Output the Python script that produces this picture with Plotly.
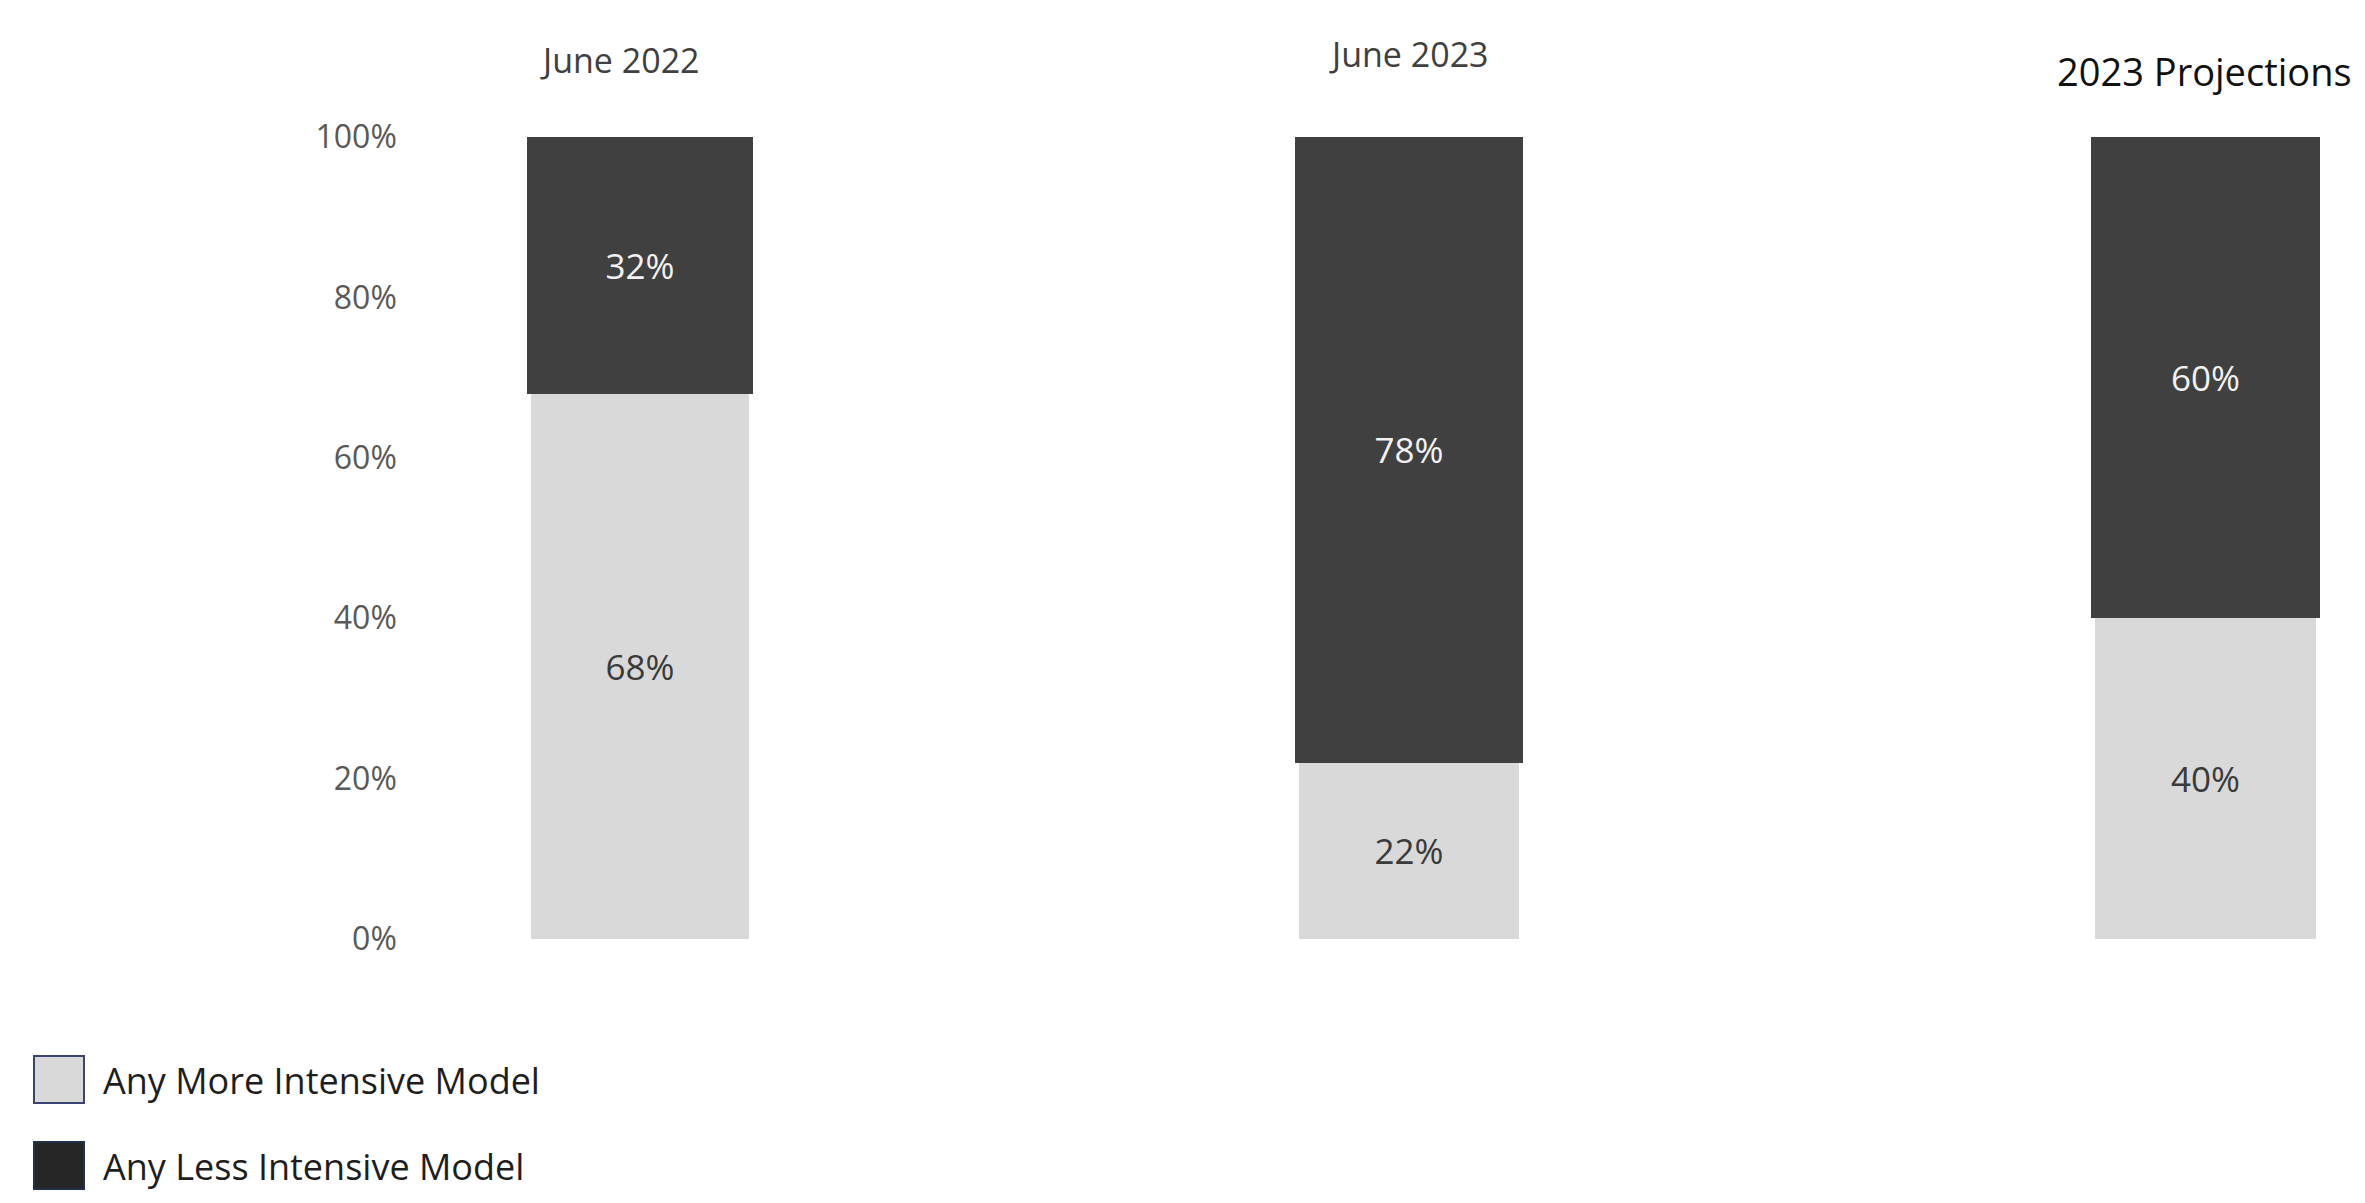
import plotly.graph_objects as go

# ---- data ----
categories = ["June 2022", "June 2023", "2023 Projections"]
more_intensive = [68, 22, 40]
less_intensive = [32, 78, 60]
series_names = ["Any More Intensive Model", "Any Less Intensive Model"]
y_tick_vals = [0, 20, 40, 60, 80, 100]
y_tick_text = ["0%", "20%", "40%", "60%", "80%", "100%"]

# ---- style ----
W, H = 2365, 1203
M_T, M_B = 137, 264
FONT = "Open Sans"
LIGHT = "#d9d9d9"
DARK = "#404040"
domains = [[527 / W, 753 / W], [1295 / W, 1523 / W], [2091 / W, 2320 / W]]
title_style = [
    dict(size=34, color="#404040", xshift=-20, yshift=77),
    dict(size=34, color="#404040", xshift=0, yshift=83),
    dict(size=38, color="#111111", xshift=-1, yshift=66),
]

plot_h = H - M_T - M_B


def py(pix):
    return (H - M_B - pix) / plot_h


def px(pix):
    return pix / W


fig = go.Figure()
layout = {}
annotations = []
for i, cat in enumerate(categories):
    ax = "x" if i == 0 else f"x{i + 1}"
    axkey = "xaxis" if i == 0 else f"xaxis{i + 1}"
    fig.add_trace(go.Bar(
        x=[cat], y=[more_intensive[i]], xaxis=ax, yaxis="y",
        name=series_names[0], showlegend=False, width=0.965,
        marker=dict(color=LIGHT, line=dict(width=0)),
        text=[f"{more_intensive[i]}%"], textposition="inside",
        insidetextanchor="middle", textangle=0,
        textfont=dict(family=FONT, size=35, color="#3a3a3a"),
        hoverinfo="skip",
    ))
    fig.add_trace(go.Bar(
        x=[cat], y=[less_intensive[i]], xaxis=ax, yaxis="y",
        name=series_names[1], showlegend=False, width=1.0,
        marker=dict(color=DARK, line=dict(width=0)),
        text=[f"{less_intensive[i]}%"], textposition="inside",
        insidetextanchor="middle", textangle=0,
        textfont=dict(family=FONT, size=35, color="#f2f2f2"),
        hoverinfo="skip",
    ))
    layout[axkey] = dict(
        domain=domains[i], type="category", range=[-0.5, 0.5],
        showticklabels=False, showgrid=False, zeroline=False,
        showline=False, ticks="", anchor="y",
    )
    st = title_style[i]
    annotations.append(dict(
        text=cat, xref=ax, x=cat, yref="paper", y=1,
        xanchor="center", yanchor="middle",
        xshift=st["xshift"], yshift=st["yshift"], showarrow=False,
        font=dict(family=FONT, size=st["size"], color=st["color"]),
    ))

# legend (drawn manually to get large swatches)
legend_rows = [
    dict(y0=1056, y1=1103, fill=LIGHT, line="#3a4470", ty=1080),
    dict(y0=1142, y1=1189, fill="#262626", line="#22304f", ty=1166),
]
shapes = []
for name, row in zip(series_names, legend_rows):
    shapes.append(dict(
        type="rect", xref="paper", yref="paper",
        x0=px(34), x1=px(84), y0=py(row["y1"]), y1=py(row["y0"]),
        fillcolor=row["fill"], line=dict(color=row["line"], width=2),
    ))
    annotations.append(dict(
        text=name, xref="paper", yref="paper", x=px(101), y=py(row["ty"]),
        xanchor="left", yanchor="middle", showarrow=False,
        font=dict(family=FONT, size=36, color="#1e1e1e"),
    ))

fig.update_layout(
    **layout,
    yaxis=dict(
        range=[0, 100], anchor="free", position=0.1678,
        tickvals=y_tick_vals, ticktext=y_tick_text,
        showgrid=False, zeroline=False, showline=False, ticks="",
        tickfont=dict(family=FONT, size=32, color="#595959"),
    ),
    barmode="stack",
    width=W, height=H, autosize=False,
    margin=dict(l=0, r=0, t=M_T, b=M_B, pad=0),
    paper_bgcolor="white", plot_bgcolor="white",
    showlegend=False,
    annotations=annotations, shapes=shapes,
    font=dict(family=FONT),
)

fig.write_html("out.html")
